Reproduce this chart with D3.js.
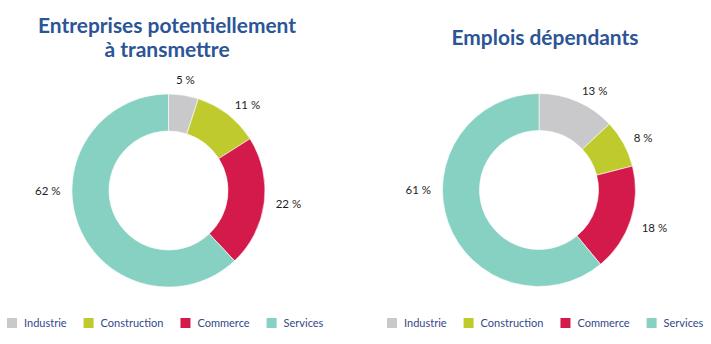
<!DOCTYPE html>
<html>
<head>
<meta charset="utf-8">
<script src="https://cdn.jsdelivr.net/npm/d3@7"></script>
<style>
  html, body { margin: 0; padding: 0; background: #ffffff; }
  svg { display: block; }
</style>
</head>
<body>
<svg id="chart" width="711" height="344"></svg>
<script>
// ---- Data ----
const categories = ["Industrie", "Construction", "Commerce", "Services"];
const entreprisesValues = [5, 11, 22, 62];
const emploisValues = [13, 8, 18, 61];
const titleLeft = ["Entreprises potentiellement", "à transmettre"];
const titleRight = ["Emplois dépendants"];
const colors = ["#c9c9cb", "#bfcb2d", "#d31a4b", "#87d1c2"];

// ---- Setup ----
const svg = d3.select("#chart");
const color = d3.scaleOrdinal().domain(categories).range(colors);
const outerR = 96.5, innerR = 59.5, labelR = 108;
const titleColor = "#2b5596";
const legendTextColor = "#33498a";

const pie = d3.pie().sort(null).value(d => d.value);
const arc = d3.arc().innerRadius(innerR).outerRadius(outerR);

function drawDonut(cx, cy, values) {
  const data = categories.map((c, i) => ({ cat: c, value: values[i] }));
  const g = svg.append("g").attr("transform", `translate(${cx},${cy})`);
  const arcs = pie(data);
  g.selectAll("path").data(arcs).join("path")
    .attr("d", arc)
    .attr("fill", d => color(d.data.cat))
    .attr("stroke", "#ffffff")
    .attr("stroke-width", 0.6);

  g.selectAll("text.lbl").data(arcs).join("text")
    .attr("class", "lbl")
    .each(function(d) {
      let a = (d.startAngle + d.endAngle) / 2;
      const left = 1.5 * Math.PI;
      // a slice spanning the left horizontal gets its label at that horizontal
      if (d.startAngle <= left && d.endAngle >= left) a = left;
      const x = labelR * Math.sin(a), y = -labelR * Math.cos(a);
      let anchor = "start";
      if (Math.sin(a) < -0.2) anchor = "end";
      else if (Math.sin(a) < 0.2) anchor = "middle";
      let yy = y;
      if (Math.abs(Math.sin(a)) < 0.2) yy = y - 4;
      else if (Math.cos(a) < -0.2) yy = y + 5;
      d3.select(this)
        .attr("x", x).attr("y", yy)
        .attr("dy", "0.35em")
        .attr("text-anchor", anchor);
    })
    .attr("font-family", "Lato, 'Open Sans', sans-serif")
    .attr("font-size", 11.5)
    .attr("fill", "#1e1e1e")
    .text(d => d.data.value + " %");
}

function drawTitle(cx, lines, baselines, targetWidths) {
  lines.forEach((t, i) => {
    const txt = svg.append("text")
      .attr("x", cx).attr("y", baselines[i])
      .attr("text-anchor", "middle")
      .attr("font-family", "Lato, 'Open Sans', sans-serif")
      .attr("font-weight", "bold")
      .attr("font-size", 21)
      .attr("fill", titleColor)
      .text(t);
    const w = txt.node().getComputedTextLength();
    if (w > targetWidths[i]) {
      txt.attr("textLength", targetWidths[i]).attr("lengthAdjust", "spacingAndGlyphs");
    }
  });
}

function drawLegend(x0, y0) {
  const g = svg.append("g").attr("transform", `translate(${x0},${y0})`);
  let x = 0;
  categories.forEach(c => {
    g.append("rect").attr("x", x).attr("y", -9).attr("width", 10).attr("height", 10)
      .attr("fill", color(c));
    const t = g.append("text").attr("x", x + 17).attr("y", 0)
      .attr("font-family", "Lato, 'Open Sans', sans-serif")
      .attr("font-size", 11)
      .attr("fill", legendTextColor)
      .text(c);
    x += 17 + t.node().getComputedTextLength() + 17;
  });
}

drawTitle(167, titleLeft, [33, 57], [258, 127]);
drawTitle(545, titleRight, [45], [187]);
drawDonut(168.5, 190.5, entreprisesValues);
drawDonut(539, 190, emploisValues);
drawLegend(7, 327);
drawLegend(387, 327);
</script>
</body>
</html>
